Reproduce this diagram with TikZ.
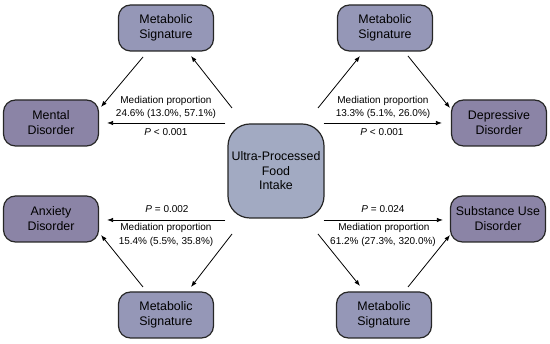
\documentclass[tikz,border=0pt]{standalone}
\usepackage{fontspec}
\setmainfont{Liberation Sans}
\usetikzlibrary{arrows.meta,positioning,calc}
\definecolor{metab}{HTML}{9597B7}
\definecolor{disord}{HTML}{8B84A6}
\definecolor{intake}{HTML}{A2AAC2}

\begin{document}
\begin{tikzpicture}[x=1pt,y=-1pt,
  box/.style={draw=black!85,line width=1.2pt,rounded corners=12pt,minimum width=95pt,minimum height=46pt,align=center,font=\fontsize{12.4}{15}\selectfont,inner sep=0pt},
  metabox/.style={box,fill=metab},
  disbox/.style={box,fill=disord},
  arr/.style={line width=0.8pt,-{Latex[length=6pt,width=4.5pt]}},
  lbl/.style={font=\fontsize{10}{12}\selectfont,inner sep=0pt}]
  \useasboundingbox (0,0) rectangle (550,344);

  % center
  \node[box,fill=intake,minimum width=96pt,minimum height=94pt,rounded corners=22pt,font=\fontsize{12.4}{14.5}\selectfont] (upf) at (276,171) {Ultra-Processed\\Food\\Intake};

  % metabolic signatures
  \node[metabox] (msTL) at (166,28) {Metabolic\\Signature};
  \node[metabox] (msTR) at (385,28) {Metabolic\\Signature};
  \node[metabox] (msBL) at (166,315) {Metabolic\\Signature};
  \node[metabox] (msBR) at (384,315) {Metabolic\\Signature};

  % outcomes
  \node[disbox] (mental) at (51,123) {Mental\\Disorder};
  \node[disbox] (depress) at (499,123) {Depressive\\Disorder};
  \node[disbox] (anxiety) at (51,219) {Anxiety\\Disorder};
  \node[disbox] (substance) at (498,219) {Substance Use\\Disorder};

  % direct paths
  \draw[arr] ($(upf.west |- mental)+(-2,0)$) -- ($(mental.east)+(8,0)$);
  \draw[arr] ($(upf.east |- depress)+(-1,0)$) -- ($(depress.west)+(-9,0)$);
  \draw[arr] ($(upf.west)+(-2,49)$) -- ($(anxiety.east)+(8,1)$);
  \draw[arr] ($(upf.east)+(-1,49)$) -- ($(substance.west)+(-7,1)$);

  % mediated paths
  \draw[arr] ($(upf)+(-44,-63)$) -- ($(msTL)+(25,28)$);
  \draw[arr] ($(msTL)+(-23,29)$) -- ($(mental)+(50,-16)$);
  \draw[arr] ($(upf)+(42,-63)$) -- ($(msTR)+(-25,28)$);
  \draw[arr] ($(msTR)+(23,28)$) -- ($(depress)+(-49,-15)$);
  \draw[arr] ($(upf)+(-44,63)$) -- ($(msBL)+(25,-28)$);
  \draw[arr] ($(msBL)+(-23,-28)$) -- ($(anxiety)+(50,16)$);
  \draw[arr] ($(upf)+(42,63)$) -- ($(msBR)+(-24,-29)$);
  \draw[arr] ($(msBR)+(24,-28)$) -- ($(substance)+(-48,16)$);

  % labels
  \node[lbl] (medTL) at (166,101) {Mediation proportion};
  \node[lbl] (propTL) at (166,114) {24.6\% (13.0\%, 57.1\%)};
  \node[lbl] (pTL) at (166,132) {\textit{P} < 0.001};
  \node[lbl] (medTR) at (383,101) {Mediation proportion};
  \node[lbl] (propTR) at (383,114) {13.3\% (5.1\%, 26.0\%)};
  \node[lbl] (pTR) at (382,132) {\textit{P} < 0.001};
  \node[lbl] (pBL) at (167,209) {\textit{P} = 0.002};
  \node[lbl] (medBL) at (166,228) {Mediation proportion};
  \node[lbl] (propBL) at (166,242) {15.4\% (5.5\%, 35.8\%)};
  \node[lbl] (pBR) at (383,209) {\textit{P} = 0.024};
  \node[lbl] (medBR) at (384,228) {Mediation proportion};
  \node[lbl] (propBR) at (383,242) {61.2\% (27.3\%, 320.0\%)};
\end{tikzpicture}
\end{document}
